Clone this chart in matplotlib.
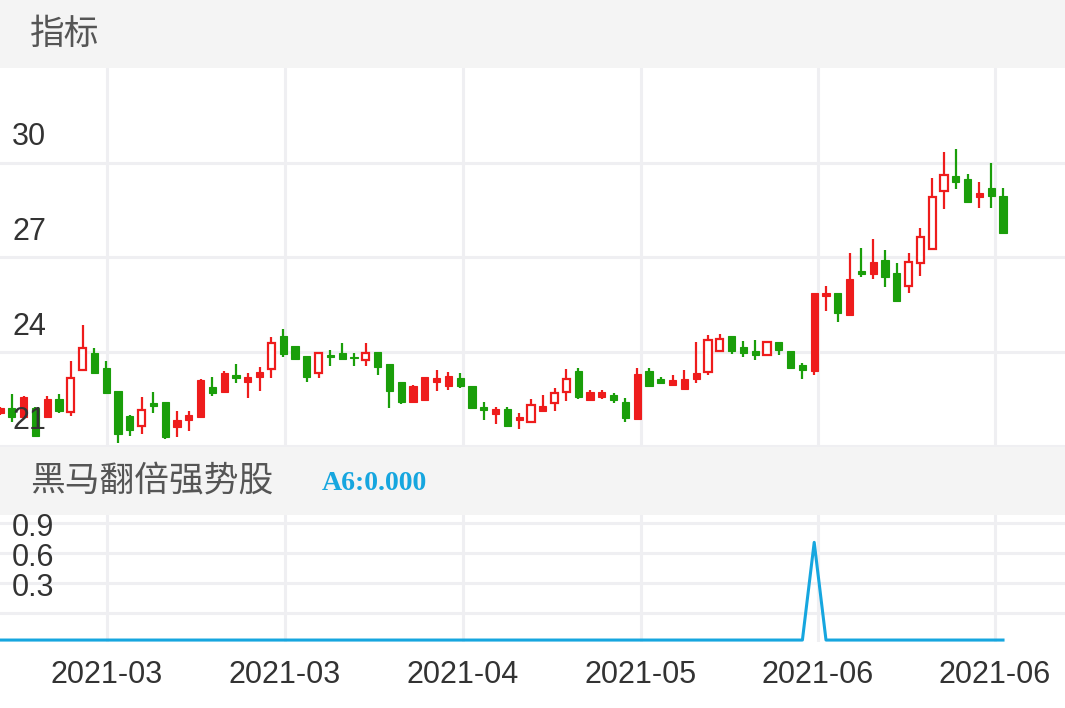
import matplotlib
matplotlib.use("Agg")
import matplotlib.pyplot as plt
import numpy as np
from matplotlib.patches import Rectangle

plt.rcParams['font.family'] = ['Liberation Sans', 'Noto Sans CJK SC', 'DejaVu Sans']

# candle data: open, close, high, low
opens = [22.06, 22.22, 21.94, 22.22, 21.94, 22.50, 22.10, 23.43, 23.97, 23.49,
         22.76, 21.97, 21.65, 22.38, 22.41, 21.62, 21.84, 21.94, 22.89, 22.73,
         23.27, 23.05, 23.20, 23.46, 24.51, 24.19, 23.87, 23.33, 23.90, 23.97,
         23.84, 23.75, 24.00, 23.62, 23.05, 22.41, 22.48, 23.05, 22.92, 23.17,
         22.92, 22.25, 22.03, 22.19, 21.84, 21.78, 22.13, 22.38, 22.73, 23.40,
         22.48, 22.57, 22.63, 22.41, 21.87, 23.40, 23.14, 22.95, 22.83, 23.14,
         23.37, 24.03, 24.51, 24.16, 24.03, 23.90, 24.32, 24.03, 23.59, 23.40,
         25.78, 25.87, 25.17, 26.57, 26.48, 26.92, 26.51, 26.10, 26.83, 27.27,
         29.11, 29.56, 29.49, 28.92, 29.21, 28.95]
closes = [22.22, 21.94, 22.57, 21.33, 22.50, 22.13, 23.17, 24.13, 23.33, 22.70,
          21.40, 21.52, 22.16, 22.29, 21.30, 21.84, 22.00, 23.11, 22.70, 23.33,
          23.17, 23.20, 23.36, 24.29, 23.94, 23.78, 23.20, 23.97, 23.84, 23.78,
          23.80, 23.97, 23.52, 22.76, 22.41, 22.92, 23.20, 23.17, 23.24, 22.92,
          22.22, 22.16, 22.19, 21.65, 21.94, 22.32, 22.29, 22.70, 23.14, 22.57,
          22.73, 22.73, 22.48, 21.90, 23.30, 22.92, 23.01, 23.11, 23.14, 23.33,
          24.38, 24.41, 24.03, 23.97, 23.90, 24.32, 24.06, 23.49, 23.43, 25.87,
          25.87, 25.24, 26.32, 26.48, 26.86, 26.38, 25.62, 26.86, 27.65, 28.92,
          29.62, 29.40, 28.76, 29.05, 28.95, 27.78]
highs = [22.25, 22.67, 22.60, 22.25, 22.60, 22.67, 23.71, 24.86, 24.13, 23.71,
         22.76, 22.00, 22.57, 22.73, 22.41, 22.13, 22.13, 23.14, 23.20, 23.40,
         23.62, 23.33, 23.52, 24.48, 24.73, 24.19, 23.87, 24.00, 24.06, 24.29,
         23.95, 24.29, 24.00, 23.62, 23.05, 22.95, 23.20, 23.43, 23.36, 23.33,
         22.92, 22.41, 22.25, 22.25, 22.06, 22.50, 22.63, 22.86, 23.46, 23.49,
         22.78, 22.78, 22.70, 22.54, 23.49, 23.49, 23.20, 23.27, 23.43, 24.32,
         24.54, 24.57, 24.51, 24.35, 24.38, 24.32, 24.32, 24.03, 23.65, 25.87,
         26.10, 25.87, 27.14, 27.30, 27.59, 27.24, 26.83, 27.14, 27.94, 29.52,
         30.35, 30.44, 29.65, 29.40, 30.00, 29.21]
lows = [22.00, 21.78, 21.90, 21.30, 21.92, 22.06, 21.97, 23.40, 23.33, 22.67,
        21.11, 21.33, 21.40, 22.06, 21.24, 21.30, 21.50, 21.94, 22.60, 22.70,
        23.00, 22.54, 22.76, 23.17, 23.84, 23.78, 23.05, 23.17, 23.55, 23.78,
        23.55, 23.55, 23.27, 22.22, 22.35, 22.38, 22.45, 22.76, 22.79, 22.86,
        22.22, 21.84, 21.71, 21.65, 21.55, 21.75, 22.13, 22.13, 22.44, 22.51,
        22.45, 22.50, 22.38, 21.78, 21.87, 22.89, 22.98, 22.92, 22.83, 23.00,
        23.27, 24.03, 23.94, 23.84, 23.75, 23.90, 23.90, 23.46, 23.14, 23.27,
        25.30, 24.95, 25.17, 26.38, 26.32, 26.06, 25.59, 25.87, 26.41, 27.27,
        28.54, 29.17, 28.73, 28.57, 28.57, 27.75]
hollow = [6, 7, 12, 23, 27, 31, 45, 47, 48, 60, 61, 65, 77, 78, 79, 80]

# indicator A6
a6 = [0.0] * 86
a6[69] = 0.75

price_ticks = [30, 27, 24, 21]
ind_labels = ['0.9', '0.6', '0.3']
date_labels = ['2021-03', '2021-03', '2021-04', '2021-05', '2021-06', '2021-06']
date_pos = [9.07, 24.15, 39.2, 54.3, 69.3, 84.3]

W, H = 1065, 708
fig = plt.figure(figsize=(W / 100, H / 100), dpi=100)
fig.patch.set_facecolor('white')

def px_axes(x0, y0, x1, y1):
    return fig.add_axes([x0 / W, 1 - y1 / H, (x1 - x0) / W, (y1 - y0) / H])

grid_c = '#efeff2'
up_c, down_c = '#ee1c1c', '#1a9e0a'
xlim = (0, W / 11.8)
cjk = ['Noto Sans CJK SC', 'DejaVu Sans']

# header bands
for y0, y1, txt in [(0, 68, '指标'), (447, 515, '黑马翻倍强势股')]:
    hb = px_axes(0, y0, W, y1)
    hb.set_facecolor('#f4f4f4')
    hb.set_xticks([]); hb.set_yticks([])
    for s in hb.spines.values():
        s.set_visible(False)
    hb.text(30 / W, 0.5, txt, fontsize=25, color='#555555', va='center',
            family=cjk, transform=hb.transAxes)
    if y0 > 0:
        hb.text(322 / W, 0.47, 'A6:0.000', fontsize=20, color='#16a6df', fontweight='bold',
                family='Liberation Serif', va='center', transform=hb.transAxes)

# price panel
ax = px_axes(0, 68, W, 447)
ax.set_xlim(*xlim)
ax.set_ylim(20.98, 33.0)
for p in price_ticks:
    ax.axhline(p, color=grid_c, lw=2.2, zorder=0)
for d in date_pos:
    ax.axvline(d, color=grid_c, lw=2.2, zorder=0)
bw = 0.62
for i in range(len(opens)):
    o, c, h, l = opens[i], closes[i], highs[i], lows[i]
    col = up_c if c >= o else down_c
    lo, hi = min(o, c), max(o, c)
    hi = max(hi, lo + 0.04)
    ax.plot([i, i], [l, lo], color=col, lw=1.6, zorder=2, solid_capstyle='butt')
    ax.plot([i, i], [hi, h], color=col, lw=1.6, zorder=2, solid_capstyle='butt')
    if i in hollow:
        ax.add_patch(Rectangle((i - bw / 2, lo), bw, hi - lo, facecolor='white',
                               edgecolor=col, lw=1.6, zorder=3))
    else:
        ax.add_patch(Rectangle((i - bw / 2, lo), bw, hi - lo, facecolor=col,
                               edgecolor=col, lw=0.8, zorder=3))
for p in price_ticks:
    ax.text(12 / W, p + 0.8, str(p), fontsize=22, color='#333333', va='center',
            transform=ax.get_yaxis_transform(), zorder=5)
ax.set_xticks([]); ax.set_yticks([])
for s in ax.spines.values():
    s.set_visible(False)

# indicator panel
bx = px_axes(0, 515, W, 642)
bx.set_xlim(*xlim)
bx.set_ylim(-0.015, 0.96)
for g in [0.9, 0.67, 0.44, 0.21]:
    bx.axhline(g, color=grid_c, lw=2.2, zorder=0)
for d in date_pos:
    bx.axvline(d, color=grid_c, lw=2.2, zorder=0)
bx.plot(range(len(a6)), a6, color='#16a6df', lw=2.2, zorder=3)
for lab, yy in zip(ind_labels, [0.86, 0.63, 0.40]):
    bx.text(12 / W, yy, lab, fontsize=22, color='#333333', va='center',
            transform=bx.get_yaxis_transform(), zorder=5)
bx.set_xticks([]); bx.set_yticks([])
for s in bx.spines.values():
    s.set_visible(False)

for d, lab in zip(date_pos, date_labels):
    fig.text(d * 11.8 / W, 1 - 675 / H, lab, fontsize=22, color='#333333',
             ha='center', va='center')

fig.savefig('out.png', dpi=100)
